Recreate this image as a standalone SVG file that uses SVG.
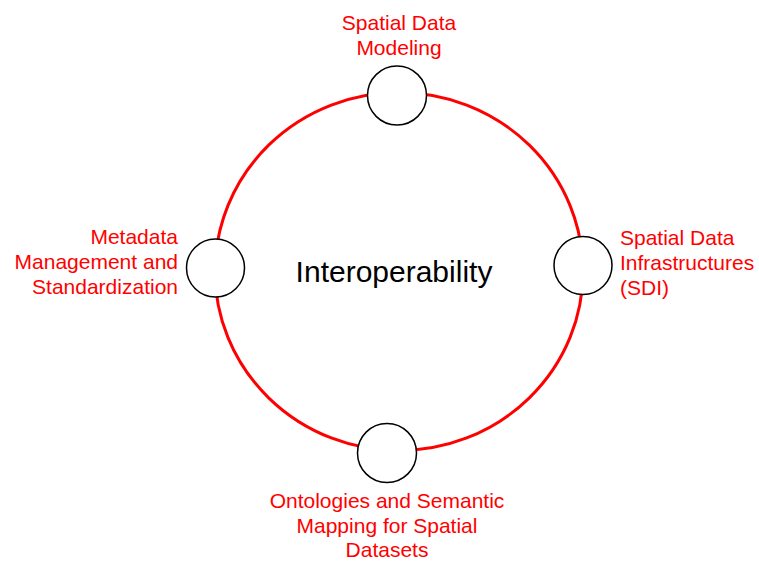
<svg xmlns="http://www.w3.org/2000/svg" width="759" height="563" viewBox="0 0 759 563">
<style>
.ring{fill:none;stroke:#ff0000;stroke-width:3}
.node{fill:#ffffff;stroke:#000000;stroke-width:1.5}
.lbl{font-family:"Liberation Sans",Arial,sans-serif;font-size:21px;fill:#ff0000}
.center{font-family:"Liberation Sans",Arial,sans-serif;font-size:30px;fill:#000000}
</style>
<rect width="759" height="563" fill="#ffffff"/>
<g id="connectors">
<ellipse class="ring" cx="399" cy="271.5" rx="184" ry="179"/>
</g>
<g id="center">
<text class="center" x="394" y="282" text-anchor="middle">Interoperability</text>
</g>
<g id="node-top">
<circle class="node" cx="397" cy="95.5" r="29.5"/>
<text class="lbl" text-anchor="middle"><tspan x="399" y="30">Spatial Data</tspan><tspan x="399" y="55">Modeling</tspan></text>
</g>
<g id="node-right">
<circle class="node" cx="583" cy="265.5" r="29"/>
<text class="lbl" text-anchor="start"><tspan x="620" y="245">Spatial Data</tspan><tspan x="620" y="270">Infrastructures</tspan><tspan x="620" y="294.5">(SDI)</tspan></text>
</g>
<g id="node-bottom">
<circle class="node" cx="387" cy="453" r="29.5"/>
<text class="lbl" text-anchor="middle"><tspan x="387" y="508">Ontologies and Semantic</tspan><tspan x="387" y="533">Mapping for Spatial</tspan><tspan x="387" y="557">Datasets</tspan></text>
</g>
<g id="node-left">
<circle class="node" cx="215.5" cy="268" r="29"/>
<text class="lbl" text-anchor="end"><tspan x="178" y="244">Metadata</tspan><tspan x="178" y="269">Management and</tspan><tspan x="178" y="294">Standardization</tspan></text>
</g>
</svg>
